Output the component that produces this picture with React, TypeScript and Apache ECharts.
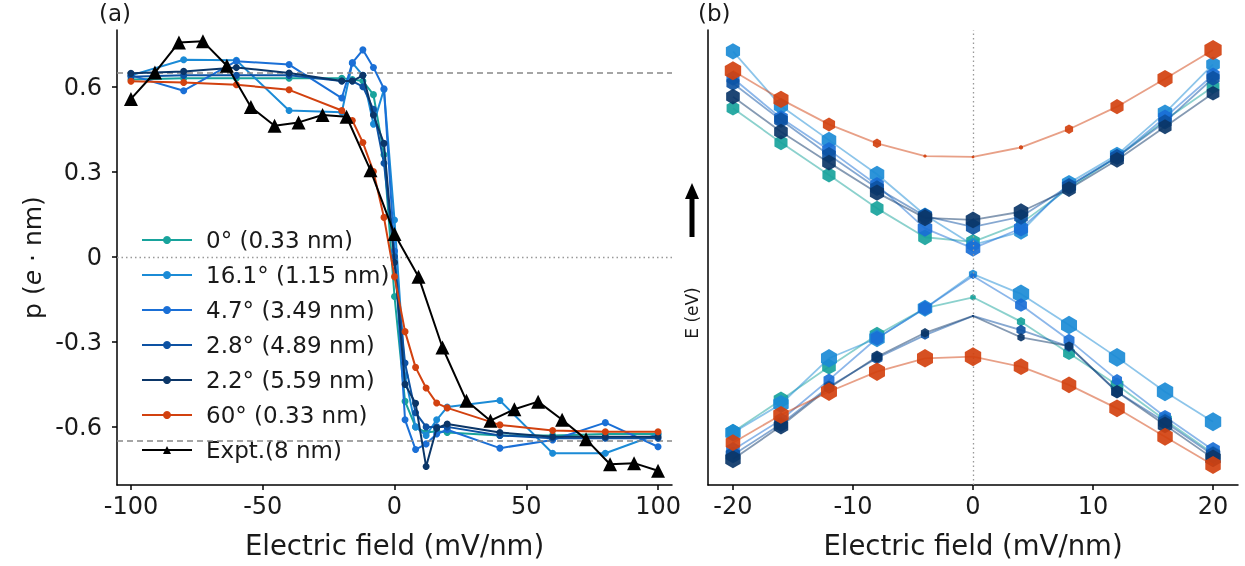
import React, { useEffect, useRef } from "react";
import * as echarts from "echarts";

// ---------- Panel (a) data ----------
const fieldSim = [-100, -80, -60, -40, -20, -16, -12, -8, -4, 0, 4, 8, 12, 16, 20, 40, 60, 80, 100];
const pTeal0 = [0.625, 0.63, 0.63, 0.63, 0.63, 0.625, 0.62, 0.572, 0.36, -0.14, -0.51, -0.6, -0.62, -0.615, -0.62, -0.63, -0.63, -0.625, -0.625];
const pLight16 = [0.64, 0.695, 0.693, 0.516, 0.51, 0.684, 0.64, 0.468, 0.59, 0.13, -0.42, -0.6, -0.63, -0.575, -0.53, -0.507, -0.693, -0.693, -0.625];
const pBlue47 = [0.64, 0.586, 0.69, 0.678, 0.56, 0.684, 0.73, 0.668, 0.593, 0.02, -0.575, -0.68, -0.66, -0.625, -0.61, -0.675, -0.646, -0.585, -0.67];
const pBlue28 = [0.635, 0.64, 0.64, 0.64, 0.62, 0.62, 0.6, 0.52, 0.33, 0.0, -0.375, -0.55, -0.6, -0.6, -0.6, -0.63, -0.64, -0.64, -0.64];
const pNavy22 = [0.647, 0.654, 0.668, 0.648, 0.62, 0.62, 0.64, 0.5, 0.4, -0.02, -0.45, -0.517, -0.74, -0.605, -0.59, -0.62, -0.635, -0.635, -0.635];
const pRed60 = [0.619, 0.615, 0.607, 0.589, 0.516, 0.481, 0.403, 0.301, 0.139, -0.07, -0.264, -0.39, -0.463, -0.516, -0.533, -0.593, -0.613, -0.617, -0.617];
const fieldExpt = [-100, -90.9, -81.8, -72.7, -63.6, -54.5, -45.5, -36.4, -27.3, -18.2, -9.1, 0, 9.1, 18.2, 27.3, 36.4, 45.5, 54.5, 63.6, 72.7, 81.8, 90.9, 100];
const pExpt = [0.557, 0.65, 0.756, 0.76, 0.674, 0.528, 0.462, 0.474, 0.5, 0.494, 0.305, 0.08, -0.07, -0.32, -0.508, -0.578, -0.538, -0.511, -0.575, -0.644, -0.732, -0.728, -0.755];
const refLevel = 0.645;
const xTicksA = [-100, -50, 0, 50, 100];
const yTicksA = [-0.6, -0.3, 0, 0.3, 0.6];

const seriesNames = ["0° (0.33 nm)", "16.1° (1.15 nm)", "4.7° (3.49 nm)", "2.8° (4.89 nm)", "2.2° (5.59 nm)", "60° (0.33 nm)"];
const exptName = "Expt.(8 nm)";

// ---------- Panel (b) data ----------
const fieldB = [-20, -16, -12, -8, -4, 0, 4, 8, 12, 16, 20];
const xTicksB = [-20, -10, 0, 10, 20];
// conduction band (arb. energy units)
const condTeal0 = [65.6, 50.5, 36.3, 21.6, 8.9, 6.9, 15.0, 30.5, 44.2, 60.4, 75.1];
const condLight16 = [90.6, 66.6, 51.6, 36.6, 18.7, 5.5, 11.3, 32.7, 45.1, 63.6, 84.9];
const condBlue47 = [78.8, 61.3, 47.3, 31.9, 12.8, 4.0, 12.8, 31.4, 44.2, 61.6, 80.2];
const condBlue28 = [76.6, 60.4, 45.1, 30.5, 18.2, 13.5, 17.9, 31.4, 44.2, 59.6, 78.8];
const condNavy22 = [70.7, 55.3, 41.7, 28.5, 17.4, 16.5, 20.1, 30.1, 42.9, 57.5, 72.2];
const condRed60 = [82.1, 69.5, 58.5, 50.2, 44.6, 44.2, 48.4, 56.4, 66.3, 78.6, 91.2];
// valence band
const valTeal0 = [-76.7, -62.6, -48.0, -34.1, -22.3, -17.5, -28.2, -42.1, -56.0, -71.4, -86.1];
const valLight16 = [-77.0, -64.4, -44.3, -35.5, -22.3, -7.3, -16.0, -29.7, -43.9, -59.0, -72.2];
const valBlue47 = [-84.6, -71.4, -53.8, -35.5, -22.3, -8.1, -20.9, -36.3, -53.8, -70.0, -84.6];
const valBlue28 = [-86.8, -73.2, -56.8, -44.2, -34.1, -25.7, -31.9, -39.2, -59.0, -72.3, -86.8];
const valNavy22 = [-88.7, -74.1, -57.4, -43.6, -33.1, -25.7, -35.1, -39.0, -59.0, -73.6, -88.3];
const valRed60 = [-81.4, -69.2, -59.0, -50.2, -44.3, -43.6, -48.0, -56.0, -66.3, -78.8, -91.2];
// spectral weights (0..1), shown as hexagon size
const wCondTeal0 = [0.7, 0.72, 0.72, 0.72, 0.75, 0.75, 0.55, 0.6, 0.65, 0.68, 0.7];
const wCondLight16 = [0.78, 0.78, 0.8, 0.8, 0.72, 0.67, 0.75, 0.78, 0.78, 0.8, 0.75];
const wCondBlue47 = [0.72, 0.75, 0.75, 0.75, 0.8, 0.8, 0.78, 0.78, 0.75, 0.75, 0.72];
const wCondBlue28 = [0.72, 0.75, 0.75, 0.75, 0.78, 0.78, 0.75, 0.75, 0.75, 0.72, 0.72];
const wCondNavy22 = [0.75, 0.75, 0.75, 0.78, 0.8, 0.8, 0.8, 0.75, 0.75, 0.72, 0.7];
const wCondRed60 = [0.9, 0.83, 0.67, 0.45, 0.17, 0.14, 0.22, 0.45, 0.72, 0.83, 0.95];
const wValTeal0 = [0.75, 0.8, 0.75, 0.8, 0.65, 0.3, 0.45, 0.65, 0.7, 0.75, 0.75];
const wValLight16 = [0.85, 0.85, 0.88, 0.85, 0.8, 0.45, 0.9, 0.88, 0.9, 0.9, 0.9];
const wValBlue47 = [0.75, 0.7, 0.6, 0.7, 0.7, 0.3, 0.65, 0.6, 0.55, 0.65, 0.75];
const wValBlue28 = [0.8, 0.75, 0.6, 0.6, 0.45, 0.1, 0.5, 0.5, 0.6, 0.75, 0.8];
const wValNavy22 = [0.85, 0.8, 0.55, 0.6, 0.45, 0.05, 0.4, 0.45, 0.65, 0.8, 0.85];
const wValRed60 = [0.8, 0.85, 0.88, 0.88, 0.88, 0.9, 0.8, 0.8, 0.85, 0.85, 0.85];

const colors = ["#18a39c", "#1b8bd6", "#1a6fd6", "#0d52a3", "#0b3668", "#d2410f"];
const FONT = "DejaVu Sans";
const TXT = "#1a1a1a";
const HEX = "path://M0,-10 L8.66,-5 L8.66,5 L0,10 L-8.66,5 L-8.66,-5 Z";

export default function App() {
  const ref = useRef<HTMLDivElement>(null);
  useEffect(() => {
    if (!ref.current) return;
    const chart = echarts.init(ref.current, null, { renderer: "svg" });

    const pA = [pTeal0, pLight16, pBlue47, pBlue28, pNavy22, pRed60];
    const condB = [condTeal0, condLight16, condBlue47, condBlue28, condNavy22, condRed60];
    const valB = [valTeal0, valLight16, valBlue47, valBlue28, valNavy22, valRed60];
    const wCond = [wCondTeal0, wCondLight16, wCondBlue47, wCondBlue28, wCondNavy22, wCondRed60];
    const wVal = [wValTeal0, wValLight16, wValBlue47, wValBlue28, wValNavy22, wValRed60];

    const series: any[] = [];
    pA.forEach((arr, i) => {
      series.push({
        name: seriesNames[i],
        type: "line",
        xAxisIndex: 0,
        yAxisIndex: 0,
        data: fieldSim.map((x, k) => [x, arr[k]]),
        symbol: "circle",
        symbolSize: 7,
        itemStyle: { color: colors[i] },
        lineStyle: { color: colors[i], width: 2 },
        z: 2 + i,
      });
    });
    series.push({
      name: exptName,
      type: "line",
      xAxisIndex: 0,
      yAxisIndex: 0,
      data: fieldExpt.map((x, k) => [x, pExpt[k]]),
      symbol: "triangle",
      symbolSize: 14,
      itemStyle: { color: "#000" },
      lineStyle: { color: "#000", width: 2 },
      z: 9,
    });
    series.push({
      name: "refs",
      type: "line",
      xAxisIndex: 0,
      yAxisIndex: 0,
      data: [],
      silent: true,
      z: 10,
      markLine: {
        silent: true,
        symbol: "none",
        label: { show: false },
        data: [
          { yAxis: refLevel, lineStyle: { type: [6, 4], color: "#888", width: 1.6 } },
          { yAxis: -refLevel, lineStyle: { type: [6, 4], color: "#888", width: 1.6 } },
          { yAxis: 0, lineStyle: { type: [1.5, 3], color: "#999", width: 1.3 } },
        ],
      },
    });

    const bandSeries = (vals: number[], w: number[], i: number, tag: string) => ({
      name: seriesNames[i] + tag,
      type: "line",
      xAxisIndex: 1,
      yAxisIndex: 1,
      data: fieldB.map((x, k) => [x, vals[k], w[k]]),
      symbol: HEX,
      symbolKeepAspect: true,
      symbolSize: (v: number[]) => Math.max(2, v[2] * 21),
      itemStyle: { color: colors[i], opacity: 0.92 },
      lineStyle: { color: colors[i], width: 1.8, opacity: 0.5 },
      z: 2 + i,
    });
    condB.forEach((arr, i) => series.push(bandSeries(arr, wCond[i], i, " c")));
    valB.forEach((arr, i) => series.push(bandSeries(arr, wVal[i], i, " v")));
    series.push({
      name: "zeroB",
      type: "line",
      xAxisIndex: 1,
      yAxisIndex: 1,
      data: [],
      silent: true,
      z: 1,
      markLine: {
        silent: true,
        symbol: "none",
        label: { show: false },
        data: [{ xAxis: 0, lineStyle: { type: [1.5, 3], color: "#999", width: 1.3 } }],
      },
    });

    const axisCommon = {
      axisLine: { show: true, onZero: false, lineStyle: { color: "#000", width: 1.5 } },
      axisTick: { show: true, inside: false, length: 5, lineStyle: { color: "#000", width: 1.5 } },
      splitLine: { show: false },
    };
    const xName = {
      name: "Electric field (mV/nm)",
      nameLocation: "middle",
      nameGap: 46,
      nameTextStyle: { fontSize: 27.5, color: TXT, fontFamily: FONT },
    };

    chart.setOption({
      animation: false,
      textStyle: { fontFamily: FONT },
      grid: [
        { left: 117, top: 30, width: 555, height: 455 },
        { left: 708, top: 30, width: 530, height: 455 },
      ],
      legend: {
        data: [...seriesNames, exptName],
        orient: "vertical",
        left: 136,
        top: 223,
        itemWidth: 50,
        itemHeight: 10,
        itemGap: 11,
        textStyle: { fontSize: 23, color: TXT, fontFamily: FONT, lineHeight: 24, padding: [0, 0, 0, 9] },
        selectedMode: false,
      },
      xAxis: [
        {
          type: "value",
          gridIndex: 0,
          min: -105.3,
          max: 105.3,
          ...axisCommon,
          axisTick: { ...axisCommon.axisTick, customValues: xTicksA },
          axisLabel: { customValues: xTicksA, fontSize: 24, color: TXT, margin: 9, fontFamily: FONT },
          ...xName,
        },
        {
          type: "value",
          gridIndex: 1,
          min: -22.08,
          max: 22.08,
          ...axisCommon,
          axisTick: { ...axisCommon.axisTick, customValues: xTicksB },
          axisLabel: { customValues: xTicksB, fontSize: 24, color: TXT, margin: 9, fontFamily: FONT },
          ...xName,
        },
      ],
      yAxis: [
        {
          type: "value",
          gridIndex: 0,
          min: -0.805,
          max: 0.8,
          ...axisCommon,
          axisTick: { ...axisCommon.axisTick, customValues: yTicksA },
          axisLabel: {
            customValues: yTicksA,
            fontSize: 24,
            color: TXT,
            margin: 15,
            fontFamily: FONT,
            formatter: (v: number) => (v === 0 ? "0" : v.toFixed(1)),
          },
          name: "p ({i|e} · nm)",
          nameLocation: "middle",
          nameGap: 72,
          nameRotate: 90,
          nameTextStyle: {
            fontSize: 25,
            color: TXT,
            fontFamily: FONT,
            rich: { i: { fontSize: 25, fontStyle: "italic", fontFamily: FONT, color: TXT } },
          },
        },
        {
          type: "value",
          gridIndex: 1,
          min: -100,
          max: 100,
          axisLine: { show: true, onZero: false, lineStyle: { color: "#000", width: 1.5 } },
          axisTick: { show: false },
          axisLabel: { show: false },
          splitLine: { show: false },
        },
      ],
      graphic: [
        { type: "text", left: 99, top: 1, style: { text: "(a)", fontSize: 23, fill: TXT, fontFamily: FONT } },
        { type: "text", left: 698, top: 1, style: { text: "(b)", fontSize: 23, fill: TXT, fontFamily: FONT } },
        {
          type: "text",
          x: 692,
          y: 313,
          rotation: Math.PI / 2,
          style: { text: "E (eV)", fontSize: 17, fill: TXT, fontFamily: FONT, align: "center", verticalAlign: "middle" },
        },
        {
          type: "polygon",
          shape: {
            points: [
              [689.5, 237], [694.5, 237], [694.5, 199], [699, 199], [692, 183], [685, 199], [689.5, 199],
            ],
          },
          style: { fill: "#000" },
        },
      ],
      series,
    });
    return () => chart.dispose();
  }, []);
  return <div ref={ref} style={{ position: "fixed", left: 0, top: 0, width: 1245, height: 566 }} />;
}
